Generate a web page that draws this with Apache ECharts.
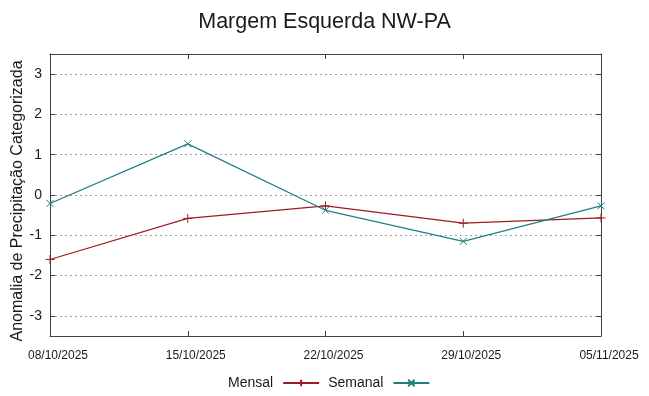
<!DOCTYPE html>
<html>
<head>
<meta charset="utf-8">
<script src="https://cdn.jsdelivr.net/npm/echarts@6/dist/echarts.min.js"></script>
<style>
  html, body { margin: 0; padding: 0; background: #fff; }
  #chart { width: 649px; height: 396px; }
</style>
</head>
<body>
<div id="chart"></div>
<script>
// datas semanais do eixo x
const dates = ["08/10/2025", "15/10/2025", "22/10/2025", "29/10/2025", "05/11/2025"];
// anomalias
const mensal = [-1.60, -0.58, -0.27, -0.70, -0.57];
const semanal = [-0.21, 1.27, -0.38, -1.15, -0.27];

const redColor = "#9e1b24";
const tealColor = "#1d7f80";
const plusPath = "path://M5,0L5,10M0,5L10,5";
const crossPath = "path://M0,0L10,10M10,0L0,10";

const chart = echarts.init(document.getElementById("chart"));

const option = {
  animation: false,
  backgroundColor: "#fff",
  title: {
    text: "Margem Esquerda NW-PA",
    left: "center",
    top: 6,
    textStyle: {
      fontFamily: "Liberation Sans",
      fontSize: 21.5,
      fontWeight: "normal",
      color: "#1a1a1a"
    }
  },
  legend: {
    bottom: 1,
    left: 223,
    align: "right",
    itemWidth: 36,
    itemHeight: 8,
    itemGap: 8,
    textStyle: {
      fontFamily: "Liberation Sans",
      fontSize: 14,
      color: "#1a1a1a",
      padding: [0, 5, 0, 0]
    },
    data: ["Mensal", "Semanal"]
  },
  grid: {
    left: 50,
    right: 48,
    top: 54,
    bottom: 60,
    outerBoundsMode: "none"
  },
  xAxis: [
    {
      type: "category",
      data: dates,
      boundaryGap: false,
      axisLine: { onZero: false, lineStyle: { color: "#404040", width: 1 } },
      axisTick: { inside: true, length: 5, lineStyle: { color: "#404040" } },
      axisLabel: {
        margin: 14,
        padding: [0, 0, 0, 16],
        fontFamily: "Liberation Sans",
        fontSize: 12,
        color: "#1a1a1a"
      },
      splitLine: { show: false }
    },
    {
      type: "category",
      data: dates,
      boundaryGap: false,
      position: "top",
      axisLine: { onZero: false, lineStyle: { color: "#404040", width: 1 } },
      axisTick: { inside: true, length: 5, lineStyle: { color: "#404040" } },
      axisLabel: { show: false },
      splitLine: { show: false }
    }
  ],
  yAxis: [
    {
      type: "value",
      min: -3.5,
      max: 3.5,
      splitNumber: 7,
      name: "Anomalia de Precipitação Categorizada",
      nameLocation: "middle",
      nameGap: 24,
      nameMoveOverlap: false,
      nameTextStyle: {
        fontFamily: "Liberation Sans",
        fontSize: 16,
        color: "#1a1a1a",
        padding: [0, 12, 0, 0]
      },
      axisLine: { show: true, lineStyle: { color: "#404040", width: 1 } },
      axisTick: { show: true, inside: true, length: 5, lineStyle: { color: "#404040" } },
      axisLabel: {
        showMinLabel: false,
        showMaxLabel: false,
        margin: 8,
        fontFamily: "Liberation Sans",
        fontSize: 14,
        color: "#1a1a1a"
      },
      splitLine: {
        show: true,
        lineStyle: { color: "#a0a0a0", type: [2, 3], width: 1 }
      }
    },
    {
      type: "value",
      min: -3.5,
      max: 3.5,
      splitNumber: 7,
      position: "right",
      axisLine: { show: true, lineStyle: { color: "#404040", width: 1 } },
      axisTick: { show: true, inside: true, length: 5, lineStyle: { color: "#404040" } },
      axisLabel: { show: false },
      splitLine: { show: false }
    }
  ],
  series: [
    {
      name: "Mensal",
      type: "line",
      data: mensal,
      symbol: plusPath,
      symbolSize: 9,
      showAllSymbol: true,
      lineStyle: { color: redColor, width: 1.2 },
      itemStyle: { color: "none", borderColor: redColor, borderWidth: 1 }
    },
    {
      name: "Semanal",
      type: "line",
      data: semanal,
      symbol: crossPath,
      symbolSize: 7,
      showAllSymbol: true,
      lineStyle: { color: tealColor, width: 1.2 },
      itemStyle: { color: "none", borderColor: tealColor, borderWidth: 1 }
    }
  ]
};

chart.setOption(option);
</script>
</body>
</html>
